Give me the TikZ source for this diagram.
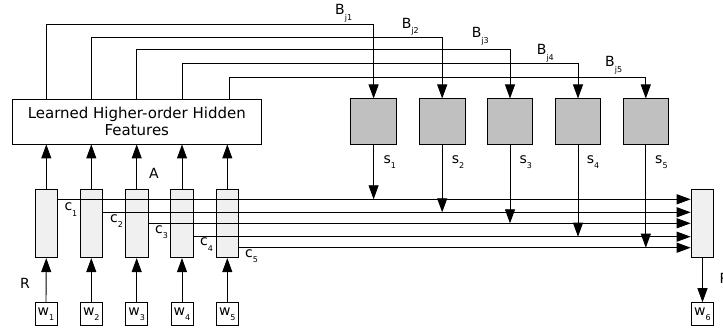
\documentclass[tikz,border=0pt]{standalone}
\usepackage{fontspec}
\setmainfont{DejaVu Sans}
\usetikzlibrary{arrows.meta,calc}
\definecolor{grayfill}{RGB}{192,192,192}
\definecolor{barfill}{RGB}{240,240,240}
\newcommand\lbl[2]{#1\raisebox{-5.5pt}{\fontsize{8}{8}\selectfont #2}}
\begin{document}
\begin{tikzpicture}[x=1pt,y=-1pt,
 every node/.style={inner sep=0pt},
 feat/.style={draw, fill=white, line width=0.9pt, minimum width=248.3pt, minimum height=45pt, align=center, font=\fontsize{15}{17.5}\selectfont},
 gbox/.style={draw, fill=grayfill, line width=0.9pt, minimum width=45.5pt, minimum height=45.3pt},
 bar/.style={draw, fill=barfill, line width=0.9pt, minimum width=22.7pt, minimum height=67.7pt},
 wbox/.style={draw, fill=white, line width=0.9pt, minimum width=22pt, minimum height=23pt, font=\fontsize{14}{14}\selectfont},
 lab/.style={anchor=base west, font=\fontsize{14}{14}\selectfont},
 conn/.style={line width=0.9pt},
 arr/.style={conn, -{Triangle[length=14pt,width=10pt]}}]
\useasboundingbox (0,0) rectangle (723,328);

% boxes
\node[feat] (F) at (136.8,121.5) {Learned Higher-order Hidden\\Features};
\node[gbox] (g1) at (373.6,121.6) {};
\node[gbox] (g2) at (442.2,121.6) {};
\node[gbox] (g3) at (510.0,121.6) {};
\node[gbox] (g4) at (578.0,121.6) {};
\node[gbox] (g5) at (645.8,121.6) {};
\node[bar] (b1) at (46.3,223.8) {};
\node[bar] (b2) at (91.3,223.8) {};
\node[bar] (b3) at (136.7,223.8) {};
\node[bar] (b4) at (182.0,223.8) {};
\node[bar] (b5) at (227.3,223.8) {};
\node[bar] (br) at (702.5,223.8) {};
\node[wbox] (w1) at (46.0,314.2) {\lbl{w}{1}};
\node[wbox] (w2) at (91.3,314.2) {\lbl{w}{2}};
\node[wbox] (w3) at (136.7,314.2) {\lbl{w}{3}};
\node[wbox] (w4) at (182.0,314.2) {\lbl{w}{4}};
\node[wbox] (w5) at (227.3,314.2) {\lbl{w}{5}};
\node[wbox] (w6) at (702.5,314.2) {\lbl{w}{6}};

% levels
\coordinate (t1) at (0,24.3);
\coordinate (t2) at (0,37.3);
\coordinate (t3) at (0,49.3);
\coordinate (t4) at (0,63.0);
\coordinate (t5) at (0,77.7);
\coordinate (c1) at (0,199.3);
\coordinate (c2) at (0,212.3);
\coordinate (c3) at (0,223.3);
\coordinate (c4) at (0,236.7);
\coordinate (c5) at (0,247.7);
\coordinate (x5) at ([xshift=2.5pt]b5.center);

% feedback B lines
\draw[arr] (F.north -| b1) |- (t1 -| g1) -- (g1.north);
\draw[arr] (F.north -| b2) |- (t2 -| g2) -- (g2.north);
\draw[arr] (F.north -| b3) |- (t3 -| g3) -- (g3.north);
\draw[arr] (F.north -| b4) |- (t4 -| g4) -- (g4.north);
\draw[arr] (F.north -| x5) |- (t5 -| g5) -- (g5.north);

% w to bars, bars to features
\foreach \i in {1,...,5}{
  \draw[arr] (w\i.north) -- (b\i.south);
  \draw[arr] (b\i.north) -- (b\i.north |- F.south);
}
\draw[arr] (br.south) -- (w6.north);

% c lines
\foreach \i in {1,...,5}{
  \draw[arr] (b\i.east |- c\i) -- (br.west |- c\i);
  \draw[arr] (g\i.south) -- (g\i.south |- c\i);
}

% labels
\node[lab] (Bj1) at (335,15) {\lbl{B}{j1}};
\node[lab] (Bj2) at (401.7,28.3) {\lbl{B}{j2}};
\node[lab] (Bj3) at (471.7,38) {\lbl{B}{j3}};
\node[lab] (Bj4) at (536.7,55) {\lbl{B}{j4}};
\node[lab] (Bj5) at (605,67) {\lbl{B}{j5}};
\node[lab] (s1) at (383.3,163.3) {\lbl{s}{1}};
\node[lab] (s2) at (451.7,163.3) {\lbl{s}{2}};
\node[lab] (s3) at (519.3,163.3) {\lbl{s}{3}};
\node[lab] (s4) at (586.7,163.3) {\lbl{s}{4}};
\node[lab] (s5) at (655,163.3) {\lbl{s}{5}};
\node[lab] (lc1) at (64.3,210.7) {\lbl{c}{1}};
\node[lab] (lc2) at (110,222.3) {\lbl{c}{2}};
\node[lab] (lc3) at (155,233.3) {\lbl{c}{3}};
\node[lab] (lc4) at (200,246) {\lbl{c}{4}};
\node[lab] (lc5) at (245,257.3) {\lbl{c}{5}};
\node[lab] (A) at (149,179) {A};
\node[lab] (R1) at (20,288.3) {R};
\node[lab] (R2) at (719.3,283.3) {R};
\end{tikzpicture}
\end{document}
